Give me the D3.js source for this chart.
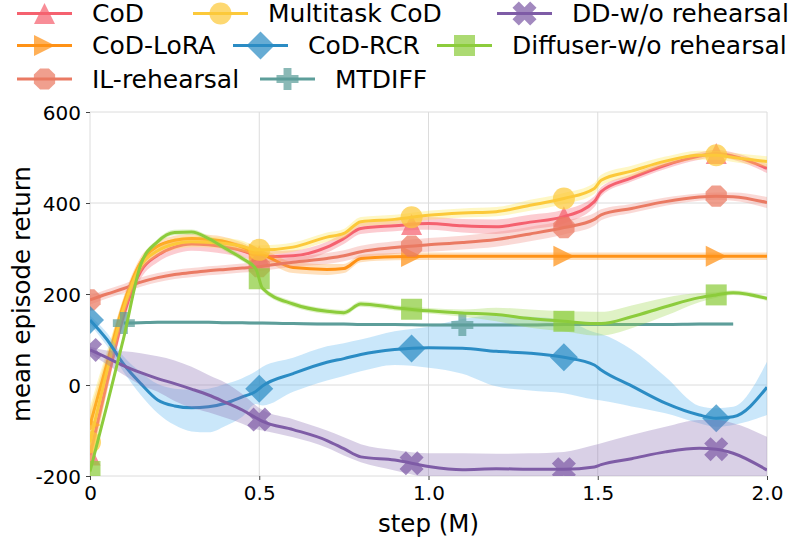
<!DOCTYPE html>
<html>
<head>
<meta charset="utf-8">
<style>
  body { margin: 0; background: #fff; }
  svg { font-family: "DejaVu Sans", sans-serif; }
</style>
</head>
<body>
<script src="https://d3js.org/d3.v7.min.js"></script>
<script>
// training steps (M) where every curve was read
const steps = [0, 0.05, 0.1, 0.15, 0.2, 0.25, 0.3, 0.35, 0.4, 0.45, 0.49, 0.51, 0.6, 0.7, 0.75,
               0.8, 0.9, 1.0, 1.1, 1.2, 1.3, 1.4, 1.49, 1.51, 1.6, 1.7, 1.8, 1.85, 1.9, 2.0];

// mean episode return per method
const codReturn = [-154, 5, 155, 250, 285, 303, 310, 308, 303, 295, 285, 282, 284, 303, 322,
                   344, 350, 355, 350, 348, 358, 370, 403, 425, 455, 483, 503, 509, 503, 476];
const codSpread = [25, 20, 18, 16, 15, 15, 15, 15, 15, 14, 12, 12, 12, 12, 12,
                   12, 12, 14, 15, 16, 16, 15, 12, 10, 8, 8, 8, 8, 8, 10];

const loraReturn = [-88, 47, 180, 270, 305, 318, 322, 320, 315, 303, 290, 286, 258, 254, 256,
                    278, 282, 283, 283, 283, 283, 283, 283, 283, 283, 283, 283, 283, 283, 283];
const loraSpread = [30, 20, 15, 12, 10, 10, 10, 10, 10, 10, 10, 11, 12, 12, 10,
                    8, 8, 8, 8, 8, 8, 8, 8, 8, 8, 8, 8, 8, 8, 8];

const ilReturn = [187, 200, 212, 226, 236, 243, 247, 251, 254, 257, 259, 261, 270, 278, 284,
                  293, 302, 308, 313, 320, 332, 346, 364, 374, 388, 403, 413, 415, 414, 401];
const ilSpread = [10, 10, 10, 10, 10, 10, 10, 10, 10, 10, 10, 10, 10, 12, 12,
                  13, 14, 15, 15, 16, 16, 15, 14, 12, 10, 9, 8, 8, 9, 12];

const multiReturn = [-126, 30, 170, 262, 295, 310, 315, 314, 311, 305, 297, 297, 303, 325, 333,
                     359, 364, 373, 378, 381, 395, 410, 432, 450, 470, 492, 505, 505, 500, 491];
const multiSpread = [80, 45, 20, 14, 12, 12, 12, 12, 12, 12, 10, 10, 10, 10, 10,
                     10, 10, 10, 10, 10, 12, 12, 12, 12, 12, 10, 10, 10, 10, 12];

const rcrReturn = [143, 100, 45, 3, -33, -46, -50, -48, -40, -26, -14, -2, 25, 50, 58,
                   67, 78, 82, 81, 74, 70, 61, 44, 33, -2, -40, -66, -73, -70, -5];
const rcrLow = [133, 86, 28, -22, -62, -88, -102, -104, -90, -70, -42, -45, -15, 10, 20,
                30, 44, 38, 25, -3, -12, -18, -32, -34, -47, -62, -84, -92, -88, -66];
const rcrHigh = [153, 115, 62, 28, 2, -8, -10, -8, 2, 15, 30, 40, 60, 85, 92,
                 100, 118, 128, 145, 153, 150, 143, 116, 112, 78, 18, -46, -51, -48, 51];

const mtdiffReturn = [null, null, 136, 137, 138, 138, 138, 138, 137, 137, 136, 136, 135, 134, 134,
                      133, 133, 132, 132, 132, 132, 133, 133, 133, 133, 133, 134, 134, 134, null];
const mtdiffSpread = [0, 0, 3, 3, 3, 3, 3, 3, 3, 3, 3, 3, 3, 3, 3,
                      3, 3, 3, 3, 3, 3, 3, 3, 3, 3, 3, 3, 3, 3, 0];

const ddReturn = [77, 60, 42, 27, 14, 3, -9, -22, -38, -55, -72, -80, -98, -122, -140,
                  -158, -165, -179, -186, -184, -185, -185, -180, -175, -162, -147, -139, -141, -150, -187];
const ddLow = [70, 45, 22, 0, -15, -35, -50, -60, -72, -85, -97, -100, -115, -138, -155,
               -170, -188, -205, -220, -220, -220, -220, -220, -220, -220, -220, -220, -220, -220, -220];
const ddHigh = [84, 76, 74, 70, 63, 54, 40, 22, 5, -20, -45, -55, -75, -100, -115,
                -130, -143, -150, -150, -151, -150, -147, -132, -128, -110, -92, -77, -77, -84, -114];

const diffuserReturn = [-190, -45, 105, 265, 315, 335, 336, 322, 300, 278, 255, 212, 178, 162, 159,
                        178, 170, 163, 158, 155, 146, 140, 135, 135, 150, 172, 192, 198, 203, 190];
const diffuserSpread = [8, 8, 6, 6, 6, 6, 6, 6, 6, 6, 6, 6, 6, 6, 6,
                        6, 6, 6, 8, 15, 20, 22, 26, 26, 25, 20, 10, 6, 5, 5];

const markerSteps = [0, 0.5, 0.95, 1.4, 1.85];
const mtdiffMarkerSteps = [0.1, 1.1];

const xTicks = [0, 0.5, 1, 1.5, 2];
const xTickLabels = ["0", "0.5", "1.0", "1.5", "2.0"];
const yTicks = [-200, 0, 200, 400, 600];
const yTickLabels = ["-200", "0", "200", "400", "600"];

const spread = (m, s, sign) => m.map((v, i) => v == null ? null : v + sign * s[i]);

// drawing order = plot order
const series = [
  {name: "CoD", color: "#f5616f", band: "#f5616f", mean: codReturn,
   lo: spread(codReturn, codSpread, -1), hi: spread(codReturn, codSpread, 1), marker: "triUp", marks: markerSteps},
  {name: "CoD-LoRA", color: "#ff9216", band: "#ffa030", mean: loraReturn,
   lo: spread(loraReturn, loraSpread, -1), hi: spread(loraReturn, loraSpread, 1), marker: "triRight", marks: markerSteps},
  {name: "IL-rehearsal", color: "#ea7a63", band: "#f08a80", mean: ilReturn,
   lo: spread(ilReturn, ilSpread, -1), hi: spread(ilReturn, ilSpread, 1), marker: "octagon", marks: markerSteps},
  {name: "Multitask CoD", color: "#fcc93a", band: "#fde64b", mean: multiReturn,
   lo: spread(multiReturn, multiSpread, -1), hi: spread(multiReturn, multiSpread, 1), marker: "circle", marks: markerSteps},
  {name: "CoD-RCR", color: "#2b8cc4", band: "#5ab4ee", mean: rcrReturn,
   lo: rcrLow, hi: rcrHigh, marker: "diamond", marks: markerSteps},
  {name: "MTDIFF", color: "#5d9e9a", band: "#5d9e9a", mean: mtdiffReturn,
   lo: spread(mtdiffReturn, mtdiffSpread, -1), hi: spread(mtdiffReturn, mtdiffSpread, 1), marker: "plus", marks: mtdiffMarkerSteps},
  {name: "DD-w/o rehearsal", color: "#7e5ca6", band: "#8a6cb0", mean: ddReturn,
   lo: ddLow, hi: ddHigh, marker: "cross", marks: markerSteps},
  {name: "Diffuser-w/o rehearsal", color: "#8ccc3c", band: "#9ad64a", mean: diffuserReturn,
   lo: spread(diffuserReturn, diffuserSpread, -1), hi: spread(diffuserReturn, diffuserSpread, 1), marker: "square", marks: markerSteps}
];

// legend placement (handle start x, row)
const legendSlots = {
  "CoD": [17, 0], "Multitask CoD": [193, 0], "DD-w/o rehearsal": [497, 0],
  "CoD-LoRA": [17, 1], "CoD-RCR": [233, 1], "Diffuser-w/o rehearsal": [437, 1],
  "IL-rehearsal": [17, 2], "MTDIFF": [260, 2]
};
const legendRowY = [13.5, 45.5, 79];

const W = 796, H = 546;
const plot = {left: 90, right: 767, top: 112, bottom: 476};

const svg = d3.select("body").append("svg")
    .attr("width", W)
    .attr("height", H);

const x = d3.scaleLinear().domain([0, 2]).range([plot.left, plot.right]);
const y = d3.scaleLinear().domain([-200, 600]).range([plot.bottom, plot.top]);

// grid
svg.append("g").selectAll("line").data(xTicks).join("line")
    .attr("x1", d => x(d)).attr("x2", d => x(d))
    .attr("y1", plot.top).attr("y2", plot.bottom)
    .attr("stroke", "#dcdcdc").attr("stroke-width", 1);
svg.append("g").selectAll("line").data(yTicks).join("line")
    .attr("x1", plot.left).attr("x2", plot.right)
    .attr("y1", d => y(d)).attr("y2", d => y(d))
    .attr("stroke", "#dcdcdc").attr("stroke-width", 1);

// axes
const xAxis = svg.append("g")
    .attr("transform", `translate(0,${plot.bottom})`)
    .call(d3.axisBottom(x).tickValues(xTicks).tickFormat((d, i) => xTickLabels[i]).tickSize(4).tickPadding(6));
const yAxis = svg.append("g")
    .attr("transform", `translate(${plot.left},0)`)
    .call(d3.axisLeft(y).tickValues(yTicks).tickFormat((d, i) => yTickLabels[i]).tickSize(4).tickPadding(5));
[xAxis, yAxis].forEach(g => {
  g.attr("font-size", 20).attr("font-family", "DejaVu Sans, sans-serif");
  g.select(".domain").remove();
  g.selectAll(".tick line").attr("stroke", "#444");
  g.selectAll(".tick text").attr("fill", "#000");
});
yAxis.selectAll(".tick text").attr("dy", "0.36em");

svg.append("text")
    .attr("x", (plot.left + plot.right) / 2).attr("y", 532)
    .attr("text-anchor", "middle").attr("font-size", 24.5)
    .text("step (M)");
svg.append("text")
    .attr("transform", `translate(30,${(plot.top + plot.bottom) / 2}) rotate(-90)`)
    .attr("text-anchor", "middle").attr("font-size", 24.5)
    .text("mean episode return");

// marker shapes
const plusPath = r => {
  const t = r * 0.36;
  return `M${-t},${-r}H${t}V${-t}H${r}V${t}H${t}V${r}H${-t}V${t}H${-r}V${-t}H${-t}Z`;
};
const markerPath = {
  triUp: r => `M0,${-r}L${r},${r}L${-r},${r}Z`,
  triRight: r => `M${r},0L${-r},${-r}L${-r},${r}Z`,
  circle: r => `M${r},0A${r},${r},0,1,1,${-r},0A${r},${r},0,1,1,${r},0Z`,
  diamond: r => `M0,${-r}L${r},0L0,${r}L${-r},0Z`,
  square: r => `M${-r},${-r}H${r}V${r}H${-r}Z`,
  octagon: r => d3.range(8).map(k => {
      const a = Math.PI / 8 + k * Math.PI / 4;
      return (k ? "L" : "M") + (r * Math.cos(a)).toFixed(2) + "," + (r * Math.sin(a)).toFixed(2);
    }).join("") + "Z",
  plus: plusPath,
  cross: plusPath   // drawn rotated by 45
};
const markerSize = {triUp: 10.5, triRight: 10.5, circle: 11, diamond: 14, square: 10.5, octagon: 11.5, plus: 11, cross: 12.5};
const markerRotate = {cross: 45};

svg.append("clipPath").attr("id", "plotclip")
  .append("rect")
    .attr("x", plot.left).attr("y", plot.top)
    .attr("width", plot.right - plot.left).attr("height", plot.bottom - plot.top);

const drawing = svg.append("g").attr("clip-path", "url(#plotclip)");

const area = d3.area()
    .defined(d => d.lo != null)
    .x(d => x(d.step)).y0(d => y(d.lo)).y1(d => y(d.hi))
    .curve(d3.curveMonotoneX);
const line = d3.line()
    .defined(d => d.mean != null)
    .x(d => x(d.step)).y(d => y(d.mean))
    .curve(d3.curveMonotoneX);

series.forEach(s => {
  const pts = steps.map((step, i) => ({step, mean: s.mean[i], lo: s.lo[i], hi: s.hi[i]}));
  const g = drawing.append("g");
  g.append("path").datum(pts)
      .attr("d", area)
      .attr("fill", s.band).attr("fill-opacity", 0.32);
  g.append("path").datum(pts)
      .attr("d", line)
      .attr("fill", "none").attr("stroke", s.color)
      .attr("stroke-width", 3).attr("stroke-linejoin", "round");

  const known = pts.filter(p => p.mean != null);
  const at = d3.scaleLinear().domain(known.map(p => p.step)).range(known.map(p => p.mean));
  g.selectAll(".mk").data(s.marks).join("path")
      .attr("class", "mk")
      .attr("transform", d => `translate(${x(d)},${y(at(d))}) rotate(${markerRotate[s.marker] || 0})`)
      .attr("d", markerPath[s.marker](markerSize[s.marker]))
      .attr("fill", s.color).attr("fill-opacity", 0.72);
});

// legend
const legend = svg.append("g");
series.forEach(s => {
  const [hx, row] = legendSlots[s.name];
  const ly = legendRowY[row];
  const g = legend.append("g");
  g.append("line")
      .attr("x1", hx).attr("x2", hx + 55).attr("y1", ly).attr("y2", ly)
      .attr("stroke", s.color).attr("stroke-width", 3);
  g.append("path")
      .attr("transform", `translate(${hx + 27.5},${ly}) rotate(${markerRotate[s.marker] || 0})`)
      .attr("d", markerPath[s.marker](markerSize[s.marker]))
      .attr("fill", s.color).attr("fill-opacity", 0.72);
  g.append("text")
      .attr("x", hx + 75).attr("y", ly + 8.9)
      .attr("font-size", 25)
      .text(s.name);
});
</script>
</body>
</html>
